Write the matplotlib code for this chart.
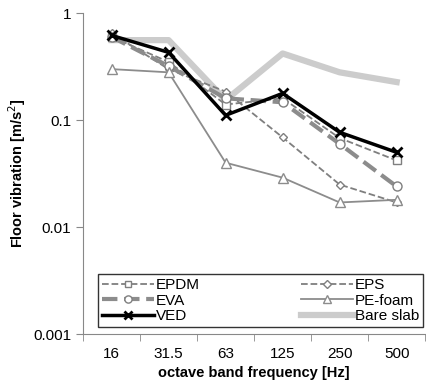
import matplotlib
matplotlib.use("Agg")
from matplotlib import pyplot as plt

plt.rcParams['font.family'] = ['Liberation Sans', 'DejaVu Sans']

freqs = ['16', '31.5', '63', '125', '250', '500']
epdm = [0.60, 0.35, 0.14, 0.16, 0.068, 0.042]
eps = [0.65, 0.30, 0.185, 0.069, 0.025, 0.017]
eva = [0.60, 0.32, 0.16, 0.147, 0.060, 0.024]
pe_foam = [0.30, 0.28, 0.040, 0.029, 0.017, 0.018]
ved = [0.62, 0.43, 0.111, 0.178, 0.077, 0.050]
bare = [0.56, 0.56, 0.154, 0.42, 0.28, 0.227]

x = list(range(len(freqs)))

fig = plt.figure(figsize=(4.26, 3.88), dpi=100)
ax = fig.add_axes([0.195, 0.139, 0.803, 0.827])

l1, = ax.plot(x, epdm, '--', color='#7f7f7f', lw=1.3, marker='s', ms=5.5,
              mfc='white', mec='#7f7f7f', label='EPDM', zorder=3)
l2, = ax.plot(x, eps, '--', color='#7f7f7f', lw=1.3, marker='D', ms=4.5,
              mfc='white', mec='#7f7f7f', label='EPS', zorder=3)
l3, = ax.plot(x, eva, '--', color='#8c8c8c', lw=3, marker='o', ms=6.5,
              mfc='white', mec='#7f7f7f', mew=1, label='EVA', zorder=3)
l4, = ax.plot(x, pe_foam, '-', color='#8c8c8c', lw=1.3, marker='^', ms=6.5,
              mfc='white', mec='#8c8c8c', label='PE-foam', zorder=3)
l5, = ax.plot(x, ved, '-', color='black', lw=2.5, marker='x', ms=7, mew=2,
              label='VED', zorder=4)
l6, = ax.plot(x, bare, '-', color='#cccccc', lw=4.5, label='Bare slab', zorder=2)

ax.set_yscale('log')
ax.set_ylim(0.001, 1)
ax.set_xlim(-0.5, 5.5)
ax.set_yticks([0.001, 0.01, 0.1, 1])
ax.set_yticklabels(['0.001', '0.01', '0.1', '1'])
ax.minorticks_off()
ax.set_xticks(x)
ax.set_xticklabels(freqs)
ax.set_xticks([i + 0.5 for i in range(-1, 6)], minor=True)
ax.tick_params(axis='x', which='major', length=0, pad=9, labelsize=11)
ax.tick_params(axis='x', which='minor', length=5, color='#888888')
ax.tick_params(axis='y', length=5, color='#888888', labelsize=11)

for s in ['top', 'right']:
    ax.spines[s].set_visible(False)
for s in ['left', 'bottom']:
    ax.spines[s].set_color('#888888')

ax.set_ylabel('Floor vibration [m/s$^2$]', fontweight='bold', fontsize=10.5)
ax.set_xlabel('octave band frequency [Hz]', fontweight='bold', fontsize=10.5)

# legend rows: EPDM/EPS, EVA/PE-foam, VED/Bare slab
leg = ax.legend([l1, l3, l5, l2, l4, l6],
                ['EPDM', 'EVA', 'VED', 'EPS', 'PE-foam', 'Bare slab'],
                ncol=2, loc='lower left', bbox_to_anchor=(0.044, 0.022, 0.95, 0.193),
                mode='expand', fontsize=11, frameon=True, fancybox=False,
                handlelength=3.4, handletextpad=0.15, labelspacing=0.1,
                borderpad=0.25, borderaxespad=0, markerscale=0.8)
leg.get_frame().set_edgecolor('black')
leg.get_frame().set_linewidth(1)

fig.savefig('out.png', dpi=100)
